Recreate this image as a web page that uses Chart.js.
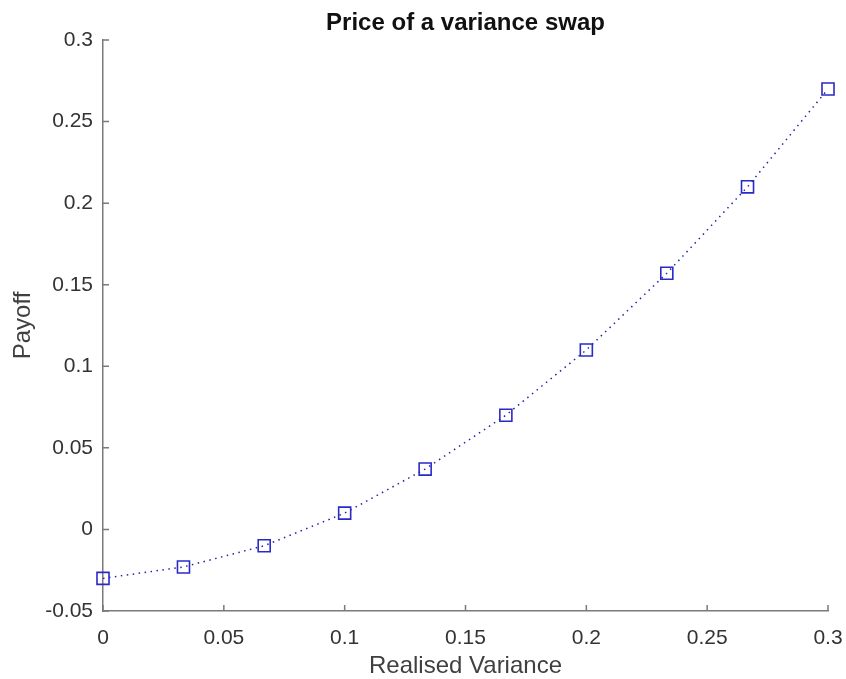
<!DOCTYPE html>
<html>
<head>
<meta charset="utf-8">
<script src="https://cdn.jsdelivr.net/npm/chart.js@4.4.1/dist/chart.umd.min.js"></script>
<style>
  html, body { margin: 0; padding: 0; background: #ffffff; }
  #wrap { width: 846px; height: 679px; }
</style>
</head>
<body>
<div id="wrap"><canvas id="c" width="846" height="679"></canvas></div>
<script>
// ---- data ----
const realisedVariance = [0, 0.0333, 0.0667, 0.1, 0.1333, 0.1667, 0.2, 0.2333, 0.2667, 0.3];
const payoff = [-0.030, -0.023, -0.010, 0.010, 0.037, 0.070, 0.110, 0.157, 0.210, 0.270];
const xTickValues = [0, 0.05, 0.1, 0.15, 0.2, 0.25, 0.3];
const yTickValues = [-0.05, 0, 0.05, 0.1, 0.15, 0.2, 0.25, 0.3];
const titleText = 'Price of a variance swap';
const xTitle = 'Realised Variance';
const yTitle = 'Payoff';

const FONT = "'Liberation Sans', Arial, Helvetica, sans-serif";
const AXIS_COLOR = '#7a7a7a';
const TEXT_COLOR = '#333333';

const points = realisedVariance.map((x, i) => ({ x: x, y: payoff[i] }));
const fmt = v => String(Number(Number(v).toFixed(4)));

// inward tick marks drawn from the library scales
const inwardTicks = {
  id: 'inwardTicks',
  afterDraw(chart) {
    const ctx = chart.ctx;
    const xs = chart.scales.x, ys = chart.scales.y;
    const area = chart.chartArea;
    const len = 6;
    ctx.save();
    ctx.strokeStyle = AXIS_COLOR;
    ctx.lineWidth = 1.5;
    ctx.beginPath();
    xs.ticks.forEach(t => {
      const px = xs.getPixelForValue(t.value);
      ctx.moveTo(px, area.bottom);
      ctx.lineTo(px, area.bottom - len);
    });
    ys.ticks.forEach(t => {
      const py = ys.getPixelForValue(t.value);
      ctx.moveTo(area.left, py);
      ctx.lineTo(area.left + len, py);
    });
    ctx.stroke();
    ctx.restore();
  }
};

// title centred over the axes box (as in the reference)
const axesTitle = {
  id: 'axesTitle',
  afterDraw(chart) {
    const ctx = chart.ctx;
    const area = chart.chartArea;
    ctx.save();
    ctx.fillStyle = '#111111';
    ctx.font = 'bold 24px ' + FONT;
    ctx.textAlign = 'center';
    ctx.textBaseline = 'alphabetic';
    ctx.fillText(titleText, (area.left + area.right) / 2, 30);
    ctx.restore();
  }
};

new Chart(document.getElementById('c'), {
  type: 'scatter',
  data: {
    datasets: [{
      data: points,
      showLine: true,
      clip: false,
      borderColor: '#2424a8',
      borderWidth: 1.5,
      borderDash: [1.5, 4.5],
      pointStyle: 'rect',
      pointRadius: 8.5,
      pointHoverRadius: 8.5,
      pointBorderWidth: 1.6,
      pointBorderColor: '#2a2ac8',
      pointBackgroundColor: 'rgba(255,255,255,0)',
      tension: 0
    }]
  },
  options: {
    responsive: false,
    animation: false,
    events: [],
    layout: { padding: { top: 40, right: 18, bottom: 0, left: 0 } },
    plugins: {
      legend: { display: false },
      tooltip: { enabled: false },
      title: { display: false }
    },
    scales: {
      x: {
        type: 'linear',
        min: 0,
        max: 0.3,
        afterBuildTicks: s => { s.ticks = xTickValues.map(v => ({ value: v })); },
        afterFit: s => { s.height = 68; s.paddingLeft = 0; s.paddingRight = 0; },
        grid: { display: false },
        border: { display: true, color: AXIS_COLOR, width: 1.5 },
        ticks: {
          color: TEXT_COLOR,
          font: { family: FONT, size: 21 },
          padding: 7,
          maxRotation: 0,
          callback: v => fmt(v)
        },
        title: {
          display: true,
          text: xTitle,
          color: '#404040',
          font: { family: FONT, size: 24 },
          padding: { top: 0, bottom: -2 }
        }
      },
      y: {
        type: 'linear',
        min: -0.05,
        max: 0.3,
        afterBuildTicks: s => { s.ticks = yTickValues.map(v => ({ value: v })); },
        afterFit: s => { s.width = 103; s.paddingTop = 0; s.paddingBottom = 0; },
        grid: { display: false },
        border: { display: true, color: AXIS_COLOR, width: 1.5 },
        ticks: {
          color: TEXT_COLOR,
          font: { family: FONT, size: 21 },
          padding: 2,
          callback: v => fmt(v)
        },
        title: {
          display: true,
          text: yTitle,
          color: '#404040',
          font: { family: FONT, size: 24 },
          padding: { top: 9, bottom: 0 }
        }
      }
    }
  },
  plugins: [inwardTicks, axesTitle]
});
</script>
</body>
</html>
